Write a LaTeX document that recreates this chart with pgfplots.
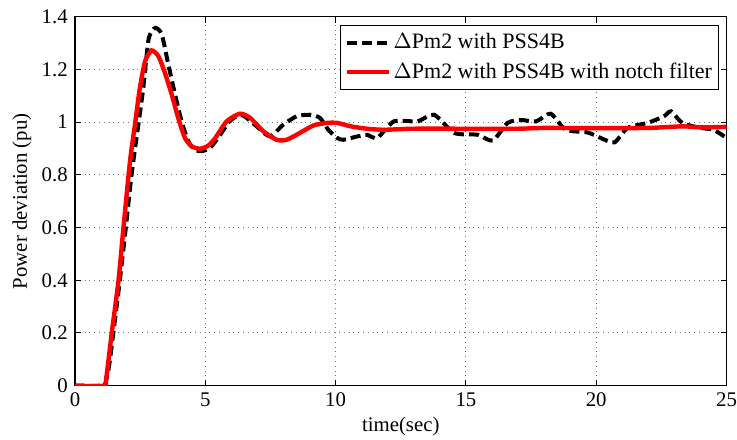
\documentclass[border=0pt]{standalone}
\usepackage{fontspec}
\setmainfont{Liberation Serif}
\usepackage{pgfplots}
\pgfplotsset{compat=1.18}
\begin{document}
\fontsize{10.4pt}{12.5pt}\selectfont
\begin{tikzpicture}
\begin{axis}[
  scale only axis,
  width=325.75pt, height=184.5pt,
  xmin=0, xmax=25, ymin=0, ymax=1.4,
  xtick={0,5,10,15,20,25},
  xticklabels={0,5,10,15,20,25},
  ytick={0,0.2,0.4,0.6,0.8,1,1.2,1.4},
  yticklabels={0,0.2,0.4,0.6,0.8,1,1.2,1.4},
  tick pos=both, tick align=inside,
  major tick length=3pt,
  grid=major,
  major grid style={dotted, black!55, line width=0.5pt},
  axis line style={line width=0.6pt},
  every tick/.style={black, line width=0.5pt},
  ticklabel style={font=\fontsize{10.4pt}{12.5pt}\selectfont},
  label style={font=\fontsize{10.4pt}{12.5pt}\selectfont},
  xlabel={time(sec)},
  ylabel={Power deviation (pu)},
  xlabel style={yshift=2pt},
  ylabel style={yshift=-2pt},
  legend style={at={(1,1)}, anchor=north east, xshift=-3.75pt, yshift=-4.15pt,
    draw=black, line width=0.6pt, font=\fontsize{11pt}{13pt}\selectfont,
    row sep=2.5pt, inner xsep=2pt, inner ysep=2.5pt,
    nodes={inner xsep=1.2pt, inner ysep=1.5pt}},
  legend cell align=left,
  legend image code/.code={\draw[#1] (0pt,0pt) -- (21pt,0pt);},
]
\addplot[black, line width=2pt, dash pattern=on 5pt off 2.5pt, smooth, tension=0.4] coordinates {
(0,0) (1.0,0) (1.15,0.005) (1.3,0.07) (1.47,0.2) (1.72,0.4) (1.95,0.6) (2.17,0.8)
(2.43,0.99) (2.62,1.13) (2.81,1.307) (2.95,1.345) (3.1,1.358) (3.33,1.333) (3.58,1.219)
(3.84,1.105) (4.09,1.003) (4.35,0.927) (4.6,0.895) (4.86,0.89) (5.18,0.902)
(5.56,0.95) (5.9,1.0) (6.2,1.022) (6.46,1.025) (6.97,0.984) (7.48,0.946) (7.99,0.99)
(8.5,1.022) (9.02,1.028) (9.4,1.016) (9.72,0.971) (10.06,0.94) (10.3,0.933)
(10.8,0.945) (11.2,0.952) (11.6,0.94) (12.24,1.003) (13.14,1.003) (13.78,1.028)
(14.55,0.959) (15.45,0.952) (16.03,0.93) (16.6,0.997) (17.1,1.008) (17.7,1.003)
(18.25,1.032) (18.83,0.971) (19.66,0.961) (20.17,0.94) (20.7,0.923) (21.2,0.978)
(21.97,0.997) (22.6,1.022) (22.87,1.041) (23.3,0.997) (24.0,0.978) (24.5,0.971)
(25,0.94)
};
\addlegendentry{$\Delta$Pm2 with PSS4B}
\addplot[red, line width=2.2pt, smooth, tension=0.4] coordinates {
(0,0) (1.1,0) (1.2,0.03) (1.41,0.2) (1.67,0.4) (1.86,0.6) (2.11,0.851) (2.3,0.99)
(2.49,1.13) (2.69,1.231) (2.94,1.272) (3.2,1.25) (3.45,1.187) (3.71,1.105) (3.96,1.016)
(4.22,0.94) (4.48,0.908) (4.8,0.899) (5.1,0.91) (5.35,0.935) (5.82,1.003)
(6.33,1.032) (6.72,1.016) (7.23,0.965) (7.74,0.933) (8.12,0.933) (8.63,0.959)
(9.14,0.987) (9.66,0.997) (10.06,0.997) (10.58,0.984) (11.2,0.975) (11.86,0.971)
(13,0.975) (15,0.975) (17,0.975) (18,0.978) (20,0.977) (22,0.978) (23.3,0.984)
(24,0.98) (25,0.982)
};
\addlegendentry{$\Delta$Pm2 with PSS4B with notch filter}
\end{axis}
\pgfresetboundingbox
\path[use as bounding box] ([shift={(-37.5pt,-26.75pt)}]current axis.south west) rectangle ([shift={(5.25pt,8.35pt)}]current axis.north east);
\end{tikzpicture}
\end{document}
